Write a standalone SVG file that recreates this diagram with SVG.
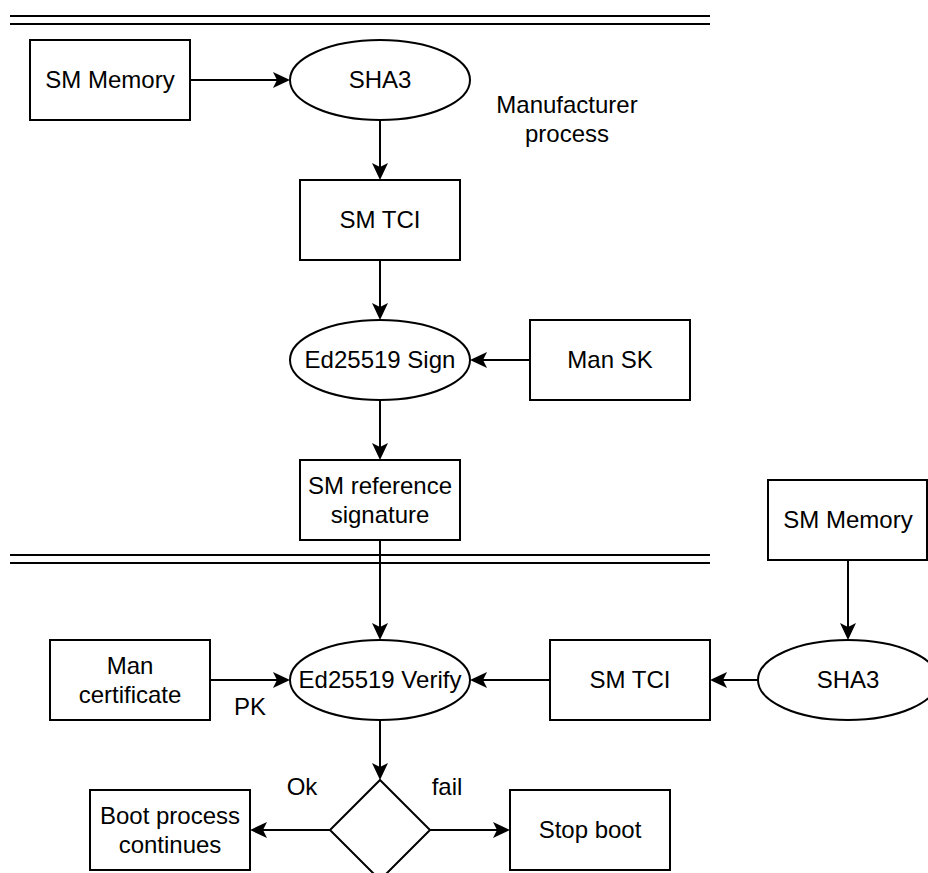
<svg xmlns="http://www.w3.org/2000/svg" width="928" height="873" viewBox="0 0 928 873">
<style>
.n{fill:#fff;stroke:#000;stroke-width:2}
.t{font-family:"Liberation Sans",Arial,Helvetica,sans-serif;font-size:24px;fill:#000;text-anchor:middle}
.e{fill:none;stroke:#000;stroke-width:2}
.sep{stroke:#000;stroke-width:2}
</style>
<defs>
<marker id="arr" markerUnits="userSpaceOnUse" viewBox="-8 -9 19 18" markerWidth="19" markerHeight="18" refX="0" refY="0" orient="auto" overflow="visible">
<path d="M10,0 L-7,-8 L-3,0 L-7,8 Z" fill="#000"/>
</marker>
</defs>
<rect width="928" height="873" fill="#fff"/>
<g id="separators">
<line class="sep" x1="10" y1="16" x2="710" y2="16"/>
<line class="sep" x1="10" y1="24" x2="710" y2="24"/>
<line class="sep" x1="10" y1="555" x2="710" y2="555"/>
<line class="sep" x1="10" y1="563" x2="710" y2="563"/>
</g>
<g id="connectors">
<path class="e" d="M190,80 H280" marker-end="url(#arr)"/>
<path class="e" d="M380,120 V170" marker-end="url(#arr)"/>
<path class="e" d="M380,260 V310" marker-end="url(#arr)"/>
<path class="e" d="M530,360 H480" marker-end="url(#arr)"/>
<path class="e" d="M380,400 V450" marker-end="url(#arr)"/>
<path class="e" d="M380,540 V630" marker-end="url(#arr)"/>
<path class="e" d="M210,680 H280" marker-end="url(#arr)"/>
<path class="e" d="M550,680 H480" marker-end="url(#arr)"/>
<path class="e" d="M848,560 V630" marker-end="url(#arr)"/>
<path class="e" d="M758,680 H720" marker-end="url(#arr)"/>
<path class="e" d="M380,720 V770" marker-end="url(#arr)"/>
<path class="e" d="M330,830 H260" marker-end="url(#arr)"/>
<path class="e" d="M430,830 H500" marker-end="url(#arr)"/>
<text class="t" x="250" y="715">PK</text>
<text class="t" x="302" y="795">Ok</text>
<text class="t" x="447" y="795">fail</text>
</g>
<g id="sm-memory-1"><rect class="n" x="30" y="40" width="160" height="80"/><text class="t" x="110" y="88">SM Memory</text></g>
<g id="sha3-1"><ellipse class="n" cx="380" cy="80" rx="90" ry="40"/><text class="t" x="380" y="88">SHA3</text></g>
<g id="manufacturer-label"><text class="t" x="567" y="113">Manufacturer</text><text class="t" x="567" y="142">process</text></g>
<g id="sm-tci-1"><rect class="n" x="300" y="180" width="160" height="80"/><text class="t" x="380" y="228">SM TCI</text></g>
<g id="ed-sign"><ellipse class="n" cx="380" cy="360" rx="90" ry="40"/><text class="t" x="380" y="368">Ed25519 Sign</text></g>
<g id="man-sk"><rect class="n" x="530" y="320" width="160" height="80"/><text class="t" x="610" y="368">Man SK</text></g>
<g id="sm-ref-sig"><rect class="n" x="300" y="460" width="160" height="80"/><text class="t" x="380" y="493.5">SM reference</text><text class="t" x="380" y="522.5">signature</text></g>
<g id="sm-memory-2"><rect class="n" x="768" y="480" width="159" height="80"/><text class="t" x="848" y="528">SM Memory</text></g>
<g id="ed-verify"><ellipse class="n" cx="380" cy="680" rx="90" ry="40"/><text class="t" x="380" y="688">Ed25519 Verify</text></g>
<g id="man-cert"><rect class="n" x="50" y="640" width="160" height="80"/><text class="t" x="130" y="674">Man</text><text class="t" x="130" y="703">certificate</text></g>
<g id="sm-tci-2"><rect class="n" x="550" y="640" width="160" height="80"/><text class="t" x="630" y="688">SM TCI</text></g>
<g id="sha3-2"><ellipse class="n" cx="848" cy="680" rx="90" ry="40"/><text class="t" x="848" y="688">SHA3</text></g>
<g id="decision"><polygon class="n" points="380,780 430,830 380,880 330,830"/></g>
<g id="boot-continues"><rect class="n" x="90" y="790" width="160" height="80"/><text class="t" x="170" y="824">Boot process</text><text class="t" x="170" y="853">continues</text></g>
<g id="stop-boot"><rect class="n" x="510" y="790" width="160" height="80"/><text class="t" x="590" y="838">Stop boot</text></g>
</svg>
